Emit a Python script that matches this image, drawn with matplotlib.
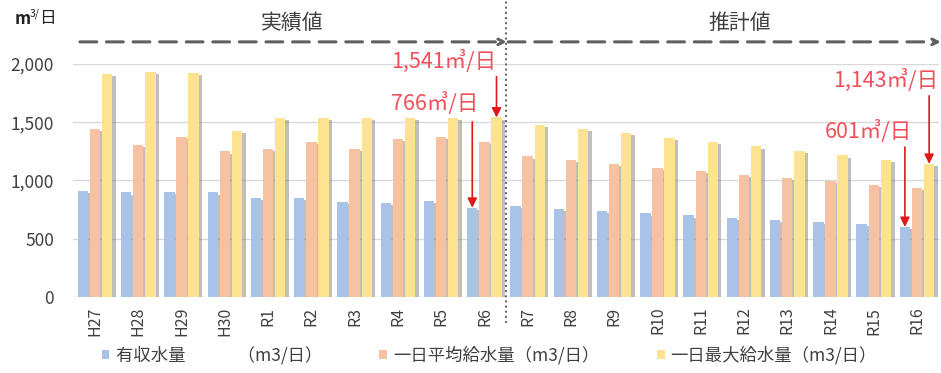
import numpy as np
import matplotlib
matplotlib.use('Agg')
import matplotlib.pyplot as plt
import matplotlib.patheffects as pe
from matplotlib.patches import Patch

plt.rcParams['font.family'] = ['Noto Sans CJK JP', 'DejaVu Sans']

# data
years = ['H27', 'H28', 'H29', 'H30', 'R1', 'R2', 'R3', 'R4', 'R5', 'R6',
         'R7', 'R8', 'R9', 'R10', 'R11', 'R12', 'R13', 'R14', 'R15', 'R16']
yushu = [914, 897, 905, 897, 851, 851, 816, 804, 822, 766,
         780, 757, 740, 717, 700, 682, 659, 642, 624, 601]
heikin = [1442, 1307, 1376, 1249, 1269, 1327, 1269, 1356, 1376, 1327,
          1206, 1174, 1140, 1111, 1079, 1048, 1019, 993, 960, 934]
saidai = [1917, 1932, 1926, 1428, 1537, 1535, 1535, 1537, 1540, 1541,
          1477, 1442, 1408, 1362, 1330, 1292, 1252, 1215, 1180, 1143]
labels = ['有収水量\u3000\u3000\u3000（m3/日）', '一日平均給水量（m3/日）', '一日最大給水量（m3/日）']
colors = ['#a9c2e8', '#f6c2a2', '#fde290']

fig = plt.figure(figsize=(9.41, 3.73), dpi=100)
ax = fig.add_axes([0.078, 0.2038, 0.9195, 0.6246])

x = np.arange(len(years))
w = 0.24
shadow = [pe.SimplePatchShadow(offset=(2.5, -1.5), shadow_rgbFace='#808080', alpha=0.5), pe.Normal()]
for vals, off, c in zip([yushu, heikin, saidai], [-0.28, 0, 0.28], colors):
    bars = ax.bar(x + off, vals, w, color=c, zorder=3)
    for b in bars:
        b.set_path_effects(shadow)

ax.set_xlim(-0.5, len(years) - 0.5)
ax.set_ylim(0, 2000)
ax.set_yticks([0, 500, 1000, 1500, 2000])
ax.set_yticklabels(['0', '500', '1,000', '1,500', '2,000'])
ax.set_xticks(x)
ax.set_xticklabels(years, rotation=90)
ax.tick_params(axis='y', length=0, pad=14, labelsize=12.5, labelcolor='#404040')
ax.tick_params(axis='x', length=0, pad=7, labelsize=11.5, labelcolor='#404040')
ax.grid(axis='y', color='#d9d9d9', lw=1, zorder=0)
for s in ax.spines.values():
    s.set_visible(False)

# 実績 / 推計 divider
ax.plot([9.5, 9.5], [-225, 2540], ls=':', color='#606060', lw=1.4, clip_on=False)
ax.annotate('', xy=(9.52, 2190), xytext=(-0.35, 2190), annotation_clip=False,
            arrowprops=dict(arrowstyle='->', ls=(0, (5.5, 3.2)), color='#606060', lw=2.2, shrinkA=0, shrinkB=0))
ax.annotate('', xy=(19.55, 2190), xytext=(9.55, 2190), annotation_clip=False,
            arrowprops=dict(arrowstyle='->', ls=(0, (5.5, 3.2)), color='#606060', lw=2.2, shrinkA=0, shrinkB=0))
ax.text(4.55, 2350, '実績値', ha='center', va='center', fontsize=15, color='#404040')
ax.text(14.9, 2350, '推計値', ha='center', va='center', fontsize=15, color='#404040')

# callouts
red_txt = '#f0505a'
red_arr = '#e01818'
callouts = [
    ('1,541㎥/日', 8.07, 2021, 9.28, 1891, saidai[9]),
    ('766㎥/日', 7.84, 1662, 8.72, 1503, yushu[9]),
    ('1,143㎥/日', 18.28, 1861, 19.28, 1727, saidai[19]),
    ('601㎥/日', 17.87, 1420, 18.72, 1287, yushu[19]),
]
for txt, tx, ty, axx, ay0, ay1 in callouts:
    ax.text(tx, ty, txt, ha='center', va='center', fontsize=15.5, color=red_txt, zorder=5)
    ax.annotate('', xy=(axx, ay1), xytext=(axx, ay0), annotation_clip=False,
                arrowprops=dict(arrowstyle='-|>', color=red_arr, lw=1.2, mutation_scale=14,
                                shrinkA=0, shrinkB=0), zorder=5)

# unit label
fig.text(0.016, 0.95, 'm', fontsize=12, fontweight='bold', color='#202020', va='center')
fig.text(0.032, 0.962, '3/', fontsize=7.5, color='#202020', va='center')
fig.text(0.042, 0.95, '日', fontsize=12, color='#202020', va='center')

handles = [Patch(facecolor=c, edgecolor='none') for c in colors]
fig.legend(handles, labels, loc='center', bbox_to_anchor=(0.52, 0.048), ncol=3, frameon=False,
           fontsize=12.5, handlelength=0.45, handleheight=0.45, handletextpad=0.35, columnspacing=3.3,
           labelcolor='#404040')

fig.savefig('out.png', dpi=100)
